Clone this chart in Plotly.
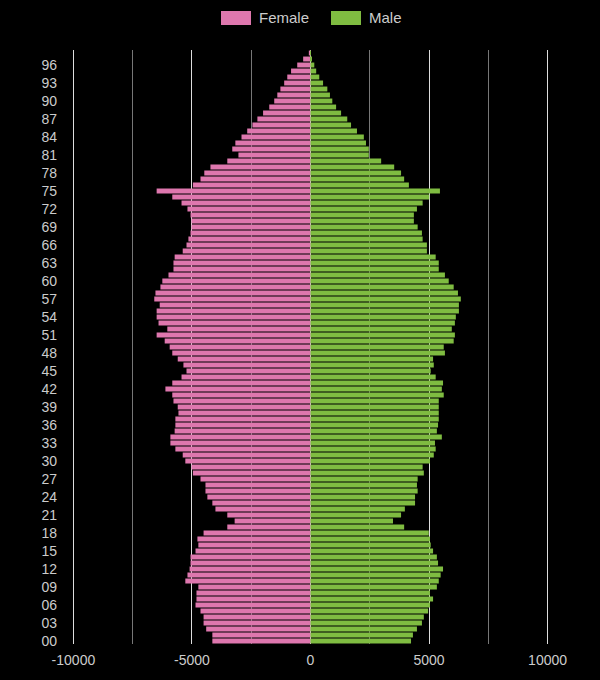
import plotly.graph_objects as go

ages = list(range(0, 99))

female = [4140, 4140, 4400, 4510, 4510, 4640, 4850, 4810, 4810, 4730,
          5280, 5190, 5100, 5060, 5060, 4850, 4730, 4770, 4510, 3510,
          3200, 3510, 4010, 4140, 4350, 4430, 4430, 4640, 4960, 5020,
          5280, 5390, 5700, 5910, 5910, 5730, 5700, 5700, 5570, 5600,
          5780, 5830, 6120, 5830, 5440, 5230, 5360, 5600, 5830, 5940,
          6150, 6490, 6040, 6410, 6490, 6490, 6360, 6590, 6540, 6330,
          6250, 5990, 5780, 5780, 5730, 5390, 5230, 5150, 5060, 5020,
          5020, 5060, 5190, 5440, 5830, 6490, 4960, 4640, 4480, 4220,
          3510, 3040, 3300, 3170, 2910, 2670, 2450, 2240, 2000, 1740,
          1530, 1400, 1270, 1110, 980, 820, 560, 310, 70]

male = [4240, 4320, 4490, 4700, 4780, 4960, 5040, 5170, 5040, 5330,
        5410, 5490, 5590, 5380, 5330, 5170, 5070, 5040, 4990, 3950,
        3480, 3820, 3980, 4410, 4410, 4520, 4490, 4520, 4780, 4730,
        5040, 5200, 5280, 5250, 5540, 5330, 5380, 5410, 5410, 5410,
        5410, 5620, 5540, 5590, 5280, 5070, 5200, 5170, 5670, 5620,
        6040, 6090, 5960, 6090, 6130, 6260, 6260, 6340, 6220, 6040,
        5830, 5670, 5410, 5410, 5280, 4910, 4910, 4730, 4700, 4520,
        4360, 4360, 4490, 4730, 5010, 5460, 4150, 3950, 3820, 3530,
        2980, 2460, 2460, 2340, 2250, 1960, 1710, 1550, 1290, 1080,
        920, 820, 710, 530, 370, 240, 160, 60, 20]

series_names = ["Female", "Male"]

tick_ages = list(range(0, 97, 3))
tick_labels = [f"{a:02d}" for a in tick_ages]

x_ticks = [-10000, -5000, 0, 5000, 10000]
x_tick_labels = ["-10000", "-5000", "0", "5000", "10000"]

PINK = "#de77ae"
GREEN = "#7fbc41"
FONT = "Liberation Sans, Arial, sans-serif"

fig = go.Figure()
fig.add_trace(go.Bar(
    y=ages, x=[-v for v in female], orientation="h", name=series_names[0],
    marker=dict(color=PINK, line=dict(width=0)),
    customdata=female, hovertemplate="Age %{y}: %{customdata}<extra>Female</extra>",
))
fig.add_trace(go.Bar(
    y=ages, x=male, orientation="h", name=series_names[1],
    marker=dict(color=GREEN, line=dict(width=0)),
    hovertemplate="Age %{y}: %{x}<extra>Male</extra>",
))

# Custom legend (wide swatches) placed above the plot area in paper coordinates
legend_items = [
    (series_names[0], PINK, 0.3124, 0.3753, 0.3878),
    (series_names[1], GREEN, 0.5430, 0.6059, 0.6184),
]
for name, color, x0, x1, xt in legend_items:
    fig.add_shape(type="rect", xref="paper", yref="paper",
                  x0=x0, x1=x1, y0=1.0421, y1=1.0657,
                  fillcolor=color, line=dict(width=0), layer="above")
    fig.add_annotation(xref="paper", yref="paper", x=xt, y=1.0539,
                       xanchor="left", yanchor="middle", text=name,
                       showarrow=False, font=dict(size=15, color="#cccccc"))

fig.update_layout(
    width=600, height=680,
    paper_bgcolor="#000000", plot_bgcolor="#000000",
    margin=dict(l=72, r=51, t=50, b=36),
    barmode="overlay", bargap=0.18, showlegend=False,
    font=dict(family=FONT, size=14, color="#cccccc"),
    xaxis=dict(range=[-10060, 10060], tickvals=x_ticks, ticktext=x_tick_labels,
               showgrid=True, gridcolor="#dddddd", gridwidth=1,
               minor=dict(tickvals=[-7500, -2500, 2500, 7500], showgrid=True,
                          gridcolor="#777777", gridwidth=1),
               zeroline=True, zerolinecolor="#dddddd", zerolinewidth=1,
               showline=False, ticks="", layer="above traces",
               tickfont=dict(size=14, color="#cccccc"), ticklabelstandoff=6,
               fixedrange=True),
    yaxis=dict(range=[-0.5, 98.5], tickvals=tick_ages, ticktext=tick_labels,
               showgrid=False, zeroline=False, showline=False, ticks="",
               tickfont=dict(size=14, color="#cccccc"), ticklabelstandoff=14,
               fixedrange=True),
)

fig.write_html(
    "out.html",
    config={"displayModeBar": False},
    post_script="document.body.style.margin='0';document.body.style.background='#000';",
)
